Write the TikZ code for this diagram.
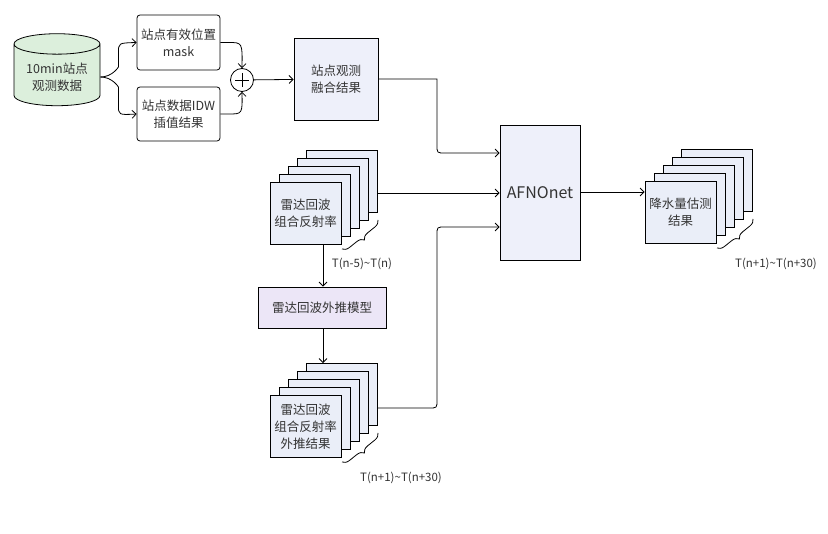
\documentclass[tikz,border=0pt]{standalone}
\usepackage{fontspec}
\setmainfont{Noto Sans CJK SC}
\usetikzlibrary{shapes.geometric,arrows.meta,decorations.pathreplacing,calc}
\definecolor{dbgreen}{HTML}{DCEFDC}
\definecolor{fuseblue}{HTML}{EEF0FA}
\definecolor{sheetblue}{HTML}{EAEEF8}
\definecolor{modelpurple}{HTML}{ECE6F7}
\tikzset{
  txt/.style={font=\fontsize{12.5}{17}\selectfont, text=black!80},
  box/.style={draw, thick, rounded corners=3pt, fill=white, align=center, txt},
  sq/.style={draw, thick, fill=fuseblue, align=center, txt},
  sheet/.style={draw, thick, fill=sheetblue, minimum width=71pt, minimum height=62pt, align=center, txt, inner sep=1pt},
  flow/.style={-{Straight Barb[length=4pt]}, thick},
  stamp/.style={font=\fontsize{11.5}{14}\selectfont, text=black!80}
}
\begin{document}
\begin{tikzpicture}[x=1pt,y=-1pt]
        \useasboundingbox (0,0) rectangle (828,534);
        \node[cylinder, shape border rotate=90, aspect=0.3, draw, thick, fill=dbgreen, minimum width=86pt, minimum height=72pt, align=center, txt] (obs) at (57,77) {10min站点\\观测数据};
        \node[box, minimum width=83pt, minimum height=55pt] (mask) at (178.5,42.5) {站点有效位置\\mask};
        \node[box, minimum width=83pt, minimum height=54pt] (idw) at (178.5,114) {站点数据IDW\\插值结果};
        \node[circle, draw, thick, inner sep=0pt, minimum size=23pt] (plus) at (242,80) {};
        \draw[thick] (plus.center) ++(-7,0) -- ++(14,0) (plus.center) ++(0,-7) -- ++(0,14);
        \node[sq, minimum width=84pt, minimum height=82pt] (fuse) at (336,79) {站点观测\\融合结果};
        \node[sq, minimum width=80pt, minimum height=135pt, font=\fontsize{16}{18}\selectfont] (afno) at (540,192.5) {AFNOnet};
        \node[box, rounded corners=0pt, fill=modelpurple, minimum width=128pt, minimum height=41pt] (model) at (322,307.5) {雷达回波外推模型};

        % sheet stacks
        \foreach \k in {4,3,2,1} {
            \node[sheet] (ra\k) at ({305.5+9*\k},{213.5-8*\k}) {};
            \node[sheet] (rb\k) at ({305.5+9*\k},{426.5-8*\k}) {};
            \node[sheet] (pr\k) at ({680.5+9*\k},{212.5-8*\k}) {};
        }
        \node[sheet] (ra0) at (305.5,213.5) {雷达回波\\组合反射率};
        \node[sheet] (rb0) at (305.5,426.5) {雷达回波\\组合反射率\\外推结果};
        \node[sheet] (pr0) at (680.5,212.5) {降水量估测\\结果};

        \draw[thick] (obs.east) .. controls +(12,0) and +(0,0) .. ++(18,-10) -- ++(0,-14) coordinate (b1);
        \draw[flow] (b1) .. controls +(0,-10) .. (mask.west);
        \draw[thick] (obs.east) .. controls +(12,0) and +(0,0) .. ++(18,10) -- ++(0,18) coordinate (b2);
        \draw[flow] (b2) .. controls +(0,10) .. (idw.west);
        \draw[flow] (mask.east) -- ++(8,0) .. controls +(14,0) .. (plus.north);
        \draw[flow] (idw.east) -- ++(8,0) .. controls +(14,0) .. (plus.south);
        \draw[flow] (plus) -- (fuse);
        \draw[flow] (fuse.east) -- (437,79) -- (437,145) .. controls (437,153) .. (445,153) -- (afno.west |- 0,153);
        \draw[flow] (ra4.east |- 0,193) -- (afno.west |- 0,193);
        \draw[flow] (rb4.east |- 0,408) -- (429,408) .. controls (437,408) .. (437,400) -- (437,235) .. controls (437,227) .. (445,227) -- (afno.west |- 0,227);
        \draw[flow] (ra0.south -| 323,0) -- (model.north -| 323,0);
        \draw[flow] (model.south -| 323,0) -- (rb4.north -| 323,0);
        \draw[flow] (afno.east |- 0,192) -- (pr0.west |- 0,192);

        \draw[thick, decorate, decoration={brace, amplitude=7pt}] (378,220) -- (342,249);
        \draw[thick, decorate, decoration={brace, amplitude=7pt}] (378,433) -- (342,462);
        \draw[thick, decorate, decoration={brace, amplitude=7pt}] (753,219) -- (717,248);
        \node[stamp] (ta) at (362,264) {T(n-5)\textasciitilde T(n)};
        \node[stamp] (tb) at (401,478) {T(n+1)\textasciitilde T(n+30)};
        \node[stamp] (tc) at (776,264) {T(n+1)\textasciitilde T(n+30)};
    \end{tikzpicture}
\end{document}
